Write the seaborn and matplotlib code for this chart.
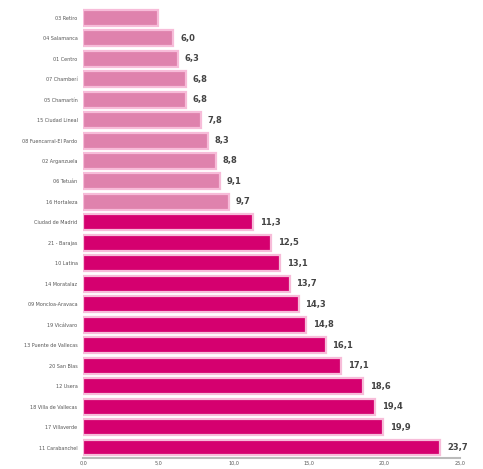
import matplotlib
matplotlib.use("Agg")
import matplotlib.pyplot as plt
import seaborn as sns
import pandas as pd

distritos = [
    "03 Retiro", "04 Salamanca", "01 Centro", "07 Chamberí", "05 Chamartín",
    "15 Ciudad Lineal", "08 Fuencarral-El Pardo", "02 Arganzuela", "06 Tetuán",
    "16 Hortaleza", "Ciudad de Madrid", "21 - Barajas", "10 Latina",
    "14 Moratalaz", "09 Moncloa-Aravaca", "19 Vicálvaro", "13 Puente de Vallecas",
    "20 San Blas", "12 Usera", "18 Villa de Vallecas", "17 Villaverde",
    "11 Carabanchel",
]
valores = [5.0, 6.0, 6.3, 6.8, 6.8, 7.8, 8.3, 8.8, 9.1, 9.7, 11.3, 12.5, 13.1,
           13.7, 14.3, 14.8, 16.1, 17.1, 18.6, 19.4, 19.9, 23.7]
grupo = ["bajo"] * 10 + ["alto"] * 12
mostrar = [False] + [True] * 21

df = pd.DataFrame({"distrito": distritos, "valor": valores, "grupo": grupo})

fig = plt.figure(figsize=(4.83, 4.69), dpi=100)
ax = fig.add_axes([0.172, 0.024, 0.780, 0.960])
sns.barplot(data=df, x="valor", y="distrito", hue="grupo",
            palette={"bajo": "#df82ad", "alto": "#d5006f"},
            dodge=False, legend=False, width=0.78, saturation=1,
            edgecolor="#f7bcd9", linewidth=1.6, ax=ax)

bars = sorted([b for c in ax.containers for b in c], key=lambda b: b.get_y())
for bar, v, m in zip(bars, valores, mostrar):
    if not m:
        continue
    y = bar.get_y() + bar.get_height() / 2
    ax.text(bar.get_width() + 0.45, y, f"{v:.1f}".replace(".", ","),
            va="center", ha="left", fontsize=6, fontweight="bold",
            color="#444444")

ax.set_xlim(0, 25)
ax.set_xticks([0, 5, 10, 15, 20, 25])
ax.set_xticklabels(["0,0", "5,0", "10,0", "15,0", "20,0", "25,0"])
ax.set_xlabel("")
ax.set_ylabel("")
ax.tick_params(axis="x", labelsize=3.5, length=0, pad=2, colors="#555555")
ax.tick_params(axis="y", labelsize=3.5, length=0, pad=4, colors="#555555")
for s in ["top", "right", "left"]:
    ax.spines[s].set_visible(False)
ax.spines["bottom"].set_color("#bbbbbb")
ax.spines["bottom"].set_linewidth(1.5)
ax.set_facecolor("white")

fig.savefig("out.png", dpi=100)
